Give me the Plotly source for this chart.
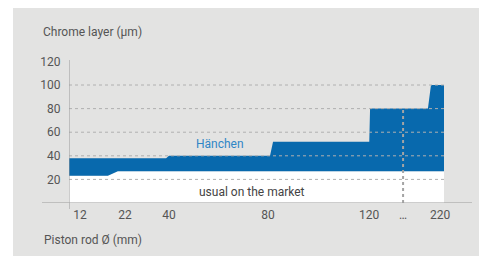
import numpy as np
import plotly.graph_objects as go

# ---- data ----
rod_tick_labels = ["12", "22", "40", "80", "120", "…", "220"]
rod_tick_mm = [12, 22, 40, 80, 120, 168, 220]
chrome_ticks = [20, 40, 60, 80, 100, 120]
grid_values = [20, 40, 60, 80, 100]

# upper edge of the Hänchen band (µm) against piston rod diameter (mm)
hanchen_mm = [9.5, 38.8, 40, 80.8, 82, 120.4, 121.5, 203, 207.3, 225.5]
hanchen_um = [38, 38, 40, 40, 52, 52, 80, 80, 100, 100]
# "usual on the market" layer (µm)
market_mm = [9.5, 18.2, 20.4, 225.5]
market_um = [23, 23, 27, 27]
break_mm = 168
break_top = 80

# ---- broken (non-linear) x scale: mm -> axis position ----
SCALE_MM = [9.5, 12, 22, 40, 80, 120, 220, 225.5]
SCALE_POS = [0, 11, 56, 100, 199, 300, 371, 375]


def to_pos(v):
    return list(np.interp(np.asarray(v, dtype=float), SCALE_MM, SCALE_POS))


OFF = 8  # page body margin
W, H = 487 - OFF, 257 - OFF
L, R, T, B = 69 - OFF, 43, 60 - OFF, 54
PW, PH = W - L - R, H - T - B
Y_MAX = 121.2


def px_x(px):
    return (px - OFF - L) / PW


def px_y(py):
    return (H - B - (py - OFF)) / PH


FONT = "Roboto"
GREY_TXT = "#555555"
BLUE = "#0869ad"
GRID = "#b0b0b0"
AXIS = "#9a9a9a"

fig = go.Figure()
fig.add_trace(go.Scatter(
    x=to_pos(market_mm), y=market_um, mode="lines",
    line=dict(width=0, color="white"), fill="tozeroy", fillcolor="white",
    hoverinfo="skip", showlegend=False))
fig.add_trace(go.Scatter(
    x=to_pos(hanchen_mm), y=hanchen_um, mode="lines",
    line=dict(width=0, color=BLUE), fill="tonexty", fillcolor=BLUE,
    hoverinfo="skip", showlegend=False))
bx = to_pos([break_mm])[0]
fig.add_trace(go.Scatter(
    x=[bx, bx], y=[0, break_top], mode="lines",
    line=dict(width=2, color="#a4a4a4", dash="dot"),
    hoverinfo="skip", showlegend=False))

shapes = [
    dict(type="rect", xref="paper", yref="paper",
         x0=px_x(13), x1=px_x(490), y0=px_y(256), y1=px_y(8),
         fillcolor="#e3e3e2", line=dict(width=0), layer="below"),
]
for v in grid_values:
    shapes.append(dict(type="line", xref="paper", yref="y", x0=0, x1=1,
                       y0=v, y1=v, line=dict(color=GRID, width=1, dash="dot"),
                       layer="above"))
shapes.append(dict(type="line", xref="paper", yref="y", x0=px_x(42), x1=px_x(472),
                   y0=0, y1=0, line=dict(color=AXIS, width=1), layer="above"))
shapes.append(dict(type="line", xref="x", yref="paper", x0=0, x1=0,
                   y0=px_y(209), y1=1, line=dict(color=AXIS, width=1), layer="above"))

annotations = [
    dict(text="Chrome layer (µm)", xref="paper", yref="paper", x=px_x(41), y=px_y(32),
         xanchor="left", yanchor="middle", showarrow=False,
         font=dict(family=FONT, size=12, color=GREY_TXT)),
    dict(text="Piston rod Ø (mm)", xref="paper", yref="paper", x=px_x(42), y=px_y(240),
         xanchor="left", yanchor="middle", showarrow=False,
         font=dict(family=FONT, size=12, color=GREY_TXT)),
    dict(text="Hänchen", xref="paper", yref="y", x=px_x(220), y=50,
         xanchor="center", yanchor="middle", showarrow=False,
         font=dict(family=FONT, size=12, color="#2f86c6")),
    dict(text="usual on the market", xref="paper", yref="y", x=px_x(252), y=9.2,
         xanchor="center", yanchor="middle", showarrow=False,
         font=dict(family=FONT, size=12, color="#444444")),
]

fig.update_layout(
    width=W, height=H, autosize=False,
    margin=dict(l=L, r=R, t=T, b=B, pad=0),
    paper_bgcolor="white", plot_bgcolor="rgba(0,0,0,0)",
    shapes=shapes, annotations=annotations, showlegend=False,
    xaxis=dict(range=[0, 375], tickvals=to_pos(rod_tick_mm), ticktext=rod_tick_labels,
               showgrid=False, zeroline=False, showline=False,
               ticks="outside", ticklen=1, tickcolor="rgba(0,0,0,0)",
               tickfont=dict(family=FONT, size=12, color=GREY_TXT), fixedrange=True),
    yaxis=dict(range=[0, Y_MAX], tickvals=chrome_ticks,
               showgrid=False, zeroline=False, showline=False,
               ticks="outside", ticklen=5, tickcolor="rgba(0,0,0,0)",
               tickfont=dict(family=FONT, size=12, color=GREY_TXT), fixedrange=True),
)

fig.write_html("out.html")
